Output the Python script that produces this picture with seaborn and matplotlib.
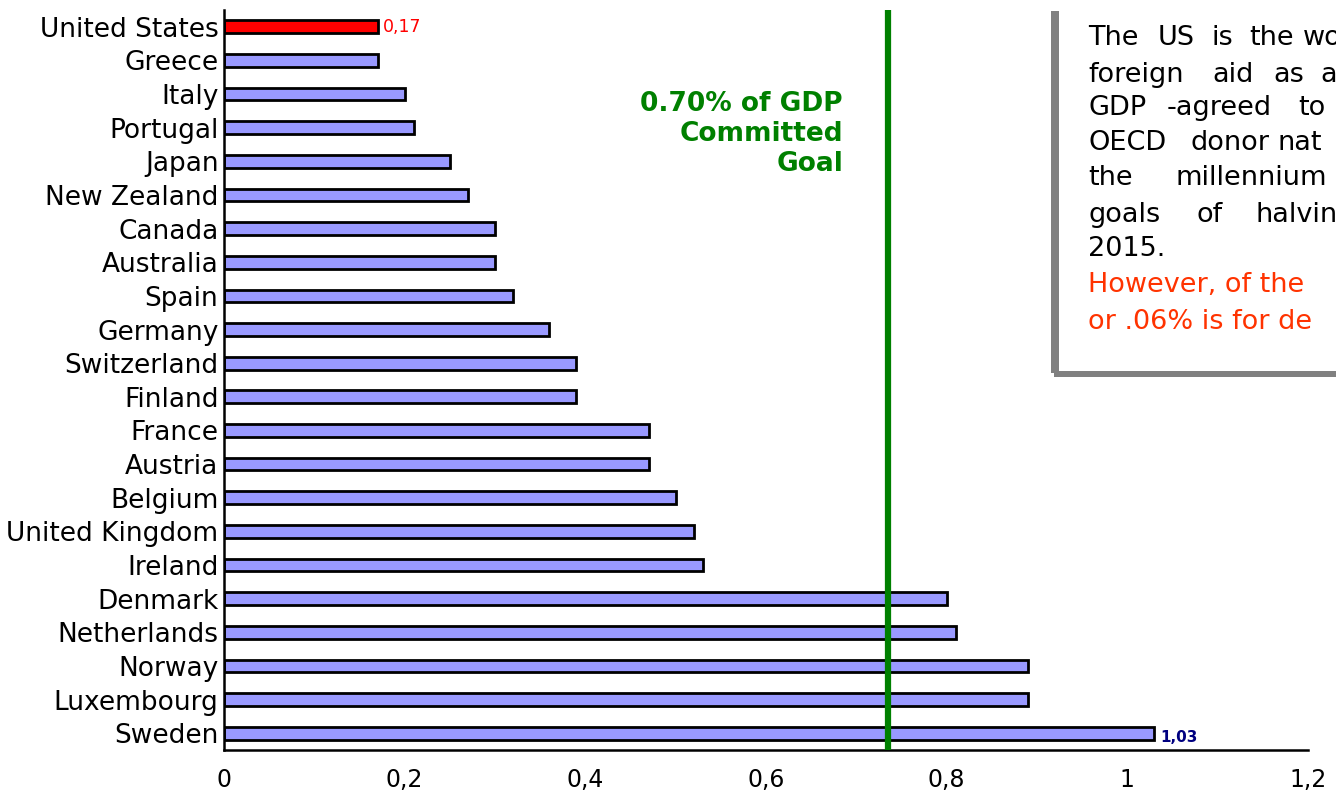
import matplotlib
matplotlib.use("Agg")
import matplotlib.pyplot as plt
from matplotlib.patches import Rectangle
from matplotlib.ticker import FixedLocator, FuncFormatter
import seaborn as sns
import pandas as pd

countries = ["United States", "Greece", "Italy", "Portugal", "Japan", "New Zealand",
             "Canada", "Australia", "Spain", "Germany", "Switzerland", "Finland",
             "France", "Austria", "Belgium", "United Kingdom", "Ireland", "Denmark",
             "Netherlands", "Norway", "Luxembourg", "Sweden"]
aid_pct_gdp = [0.17, 0.17, 0.20, 0.21, 0.25, 0.27, 0.30, 0.30, 0.32, 0.36, 0.39, 0.39,
               0.47, 0.47, 0.50, 0.52, 0.53, 0.80, 0.81, 0.89, 0.89, 1.03]
goal_line = 0.735
x_ticks = [0, 0.2, 0.4, 0.6, 0.8, 1.0, 1.2]
goal_text = "0.70% of GDP\nCommitted\nGoal"

df = pd.DataFrame({"country": countries, "aid": aid_pct_gdp})
palette = {c: ("#FF0000" if c == "United States" else "#9999FF") for c in countries}

sns.set_style("white")
plt.rcParams["font.family"] = ["DejaVu Sans"]

W, H = 1336, 797
fig = plt.figure(figsize=(W / 100, H / 100), dpi=100)
ax = fig.add_axes([224 / W, 47 / H, (1308 - 224) / W, 740 / H])

sns.barplot(data=df, y="country", x="aid", hue="country", palette=palette,
            order=countries, hue_order=countries, legend=False, orient="h",
            width=0.38, edgecolor="black", linewidth=2.0, saturation=1, ax=ax)

ax.set_xlim(0, 1.2)
ax.set_ylim(len(countries) - 0.5, -0.5)
ax.set_xlabel("")
ax.set_ylabel("")
for s in ["top", "right"]:
    ax.spines[s].set_visible(False)
for s in ["left", "bottom"]:
    ax.spines[s].set_color("black")
    ax.spines[s].set_linewidth(1.8)

ax.xaxis.set_major_locator(FixedLocator(x_ticks))
ax.xaxis.set_major_formatter(FuncFormatter(lambda v, p: ("%g" % round(v, 1)).replace(".", ",")))
ax.tick_params(axis="x", direction="out", length=5, width=1.8, labelsize=17, pad=8, colors="black")
ax.tick_params(axis="y", which="major", length=0, labelsize=19, pad=4, colors="black")
ax.set_yticks([i + 0.5 for i in range(-1, len(countries))], minor=True)
ax.tick_params(axis="y", which="minor", direction="out", length=4, width=1.8, color="black")

ax.axvline(goal_line, color="#008000", lw=4.5, zorder=5)

ax.annotate("0,17", xy=(aid_pct_gdp[0], 0), xytext=(4, 0), textcoords="offset points",
            ha="left", va="center", color="#FF0000", fontsize=12.5)
ax.annotate("1,03", xy=(aid_pct_gdp[-1], len(countries) - 1), xytext=(4, -3),
            textcoords="offset points", ha="left", va="center", color="#000080",
            fontsize=11, fontweight="bold")

fig.text(843 / W, 1 - 134 / H, goal_text, ha="right", va="center", multialignment="right",
         color="#008000", fontsize=19, fontweight="bold", linespacing=1.2)

# text box with gray shadow
def px_rect(x0, y0, x1, y1, **kw):
    fig.patches.append(Rectangle((x0 / W, 1 - y1 / H), (x1 - x0) / W, (y1 - y0) / H,
                                 transform=fig.transFigure, figure=fig, **kw))

px_rect(1059, 11, 1340, 371, facecolor="white", edgecolor="none", zorder=1)
px_rect(1051, 11, 1059, 373, facecolor="#808080", edgecolor="none", zorder=2)
px_rect(1054, 371, 1340, 377, facecolor="#808080", edgecolor="none", zorder=2)

box_lines = [
    (38, "black", [(1088, "The"), (1158, "US"), (1212, "is"), (1249, "the"), (1303, "wo")]),
    (75, "black", [(1088, "foreign"), (1212, "aid"), (1273, "as"), (1320, "a")]),
    (108, "black", [(1088, "GDP"), (1167, "-agreed"), (1298, "to")]),
    (143, "black", [(1088, "OECD"), (1190, "donor"), (1277, "nat")]),
    (178, "black", [(1088, "the"), (1175, "millennium")]),
    (215, "black", [(1088, "goals"), (1196, "of"), (1255, "halvin")]),
    (249, "black", [(1088, "2015.")]),
    (285, "#FF3300", [(1088, "However, of the")]),
    (322, "#FF3300", [(1088, "or .06% is for de")]),
]
for y, col, words in box_lines:
    for x, w in words:
        fig.text(x / W, 1 - y / H, w, ha="left", va="center", color=col,
                 fontsize=19.5, zorder=3)

fig.savefig("out.png", dpi=100)
